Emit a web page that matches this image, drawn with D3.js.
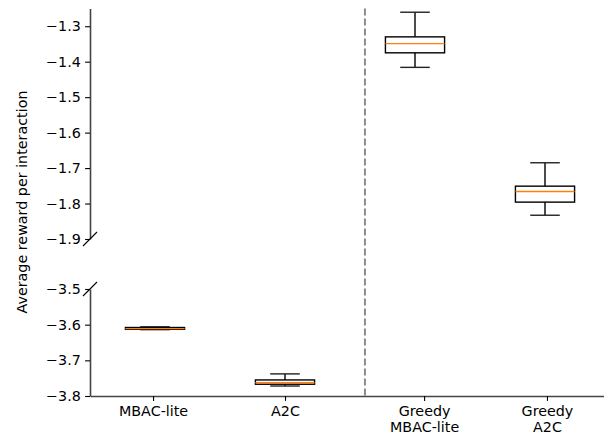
<!DOCTYPE html>
<html><head><meta charset="utf-8">
<script src="https://cdn.jsdelivr.net/npm/d3@7"></script>
<style>body{margin:0;background:#fff}text{font-family:"DejaVu Sans",sans-serif}</style>
</head><body><svg id="c" width="610" height="434"></svg>
<script>
const categories = ["MBAC-lite", "A2C", "Greedy\nMBAC-lite", "Greedy\nA2C"];
const boxPos = [1, 2, 3, 4];
const tickPos = [0.985, 2, 3.07, 4.015];
const whisLo = [-3.614, -3.772, -1.416, -1.833];
const q1     = [-3.613, -3.767, -1.375, -1.796];
const median = [-3.611, -3.763, -1.349, -1.766];
const q3     = [-3.608, -3.755, -1.330, -1.751];
const whisHi = [-3.606, -3.738, -1.2605, -1.685];
const upperTicks = [-1.3, -1.4, -1.5, -1.6, -1.7, -1.8, -1.9];
const lowerTicks = [-3.5, -3.6, -3.7, -3.8];
const separatorPos = 2.615;
const yLabel = "Average reward per interaction";

const svg = d3.select("#c");
const fs = 14.3;
const x = d3.scaleLinear().domain([0.5, 4.45]).range([90, 603.5]);
const yU = d3.scaleLinear().domain([-1.9, -1.25]).range([239, 8.5]);
const yL = d3.scaleLinear().domain([-3.8, -3.5]).range([396, 289]);
const ys = v => v > -2.5 ? yU : yL;
const fmt = d => d3.format(".1f")(d).replace("-", "\u2212");

// dashed separator
svg.append("line").attr("x1", x(separatorPos)).attr("x2", x(separatorPos))
  .attr("y1", yU.range()[1]).attr("y2", yL.range()[0])
  .attr("stroke", "#8c8c8c").attr("stroke-width", 2).attr("stroke-dasharray", "7,3");

// axes
function yAxis(scale, ticks) {
  const g = svg.append("g").attr("transform", `translate(${x.range()[0]},0)`)
    .call(d3.axisLeft(scale).tickValues(ticks).tickFormat(fmt).tickSize(4.9).tickPadding(4.3).tickSizeOuter(0));
  g.select(".domain").attr("stroke", "#444").attr("stroke-width", 1.6);
  g.selectAll(".tick line").attr("stroke", "#000").attr("stroke-width", 1.1);
  g.selectAll(".tick text").attr("font-size", fs).attr("fill", "#000").attr("font-family", "DejaVu Sans");
  return g;
}
yAxis(yU, upperTicks);
yAxis(yL, lowerTicks);

const gx = svg.append("g").attr("transform", `translate(0,${yL.range()[0]})`)
  .call(d3.axisBottom(x).tickValues(tickPos).tickFormat(() => "").tickSize(4.9).tickSizeOuter(0));
gx.select(".domain").attr("stroke", "#444").attr("stroke-width", 1.6);
gx.selectAll(".tick line").attr("stroke", "#000").attr("stroke-width", 1.1);
gx.selectAll(".tick").each(function(d, i) {
  const lines = categories[i].split("\n");
  const t = d3.select(this).append("text").attr("fill", "#000").attr("font-size", fs)
    .attr("text-anchor", "middle").attr("font-family", "DejaVu Sans");
  lines.forEach((l, j) => t.append("tspan").attr("x", 0).attr("y", 20 + j * 16.4).text(l));
});

// break marks
const bx = x.range()[0];
[yU.range()[0], yL.range()[1]].forEach(yy => {
  svg.append("line").attr("x1", bx - 7).attr("x2", bx + 7).attr("y1", yy + 7).attr("y2", yy - 7)
    .attr("stroke", "#000").attr("stroke-width", 1.1);
});

// boxes
const bw = 0.455, cw = bw / 2;
categories.forEach((c, i) => {
  const s = ys(median[i]);
  const cx = x(boxPos[i]);
  const g = svg.append("g");
  const half = (x(boxPos[i] + bw / 2) - x(boxPos[i] - bw / 2)) / 2;
  const chalf = (x(boxPos[i] + cw / 2) - x(boxPos[i] - cw / 2)) / 2;
  g.append("line").attr("x1", cx).attr("x2", cx).attr("y1", s(q3[i])).attr("y2", s(whisHi[i])).attr("stroke", "#000").attr("stroke-width", 1.4);
  g.append("line").attr("x1", cx).attr("x2", cx).attr("y1", s(q1[i])).attr("y2", s(whisLo[i])).attr("stroke", "#000").attr("stroke-width", 1.4);
  [whisHi[i], whisLo[i]].forEach(v => g.append("line").attr("x1", cx - chalf).attr("x2", cx + chalf)
    .attr("y1", s(v)).attr("y2", s(v)).attr("stroke", "#222").attr("stroke-width", 1.4));
  g.append("rect").attr("x", cx - half).attr("width", 2 * half)
    .attr("y", s(q3[i])).attr("height", Math.max(0.01, s(q1[i]) - s(q3[i])))
    .attr("fill", "none").attr("stroke", "#000").attr("stroke-width", 1.4);
  g.append("line").attr("x1", cx - half).attr("x2", cx + half).attr("y1", s(median[i])).attr("y2", s(median[i]))
    .attr("stroke", "#ff7f0e").attr("stroke-width", 1.4);
});

// y label
svg.append("text").attr("transform", `translate(27,202) rotate(-90)`).attr("text-anchor", "middle")
  .attr("font-size", fs).attr("fill", "#000").text(yLabel);
</script></body></html>
